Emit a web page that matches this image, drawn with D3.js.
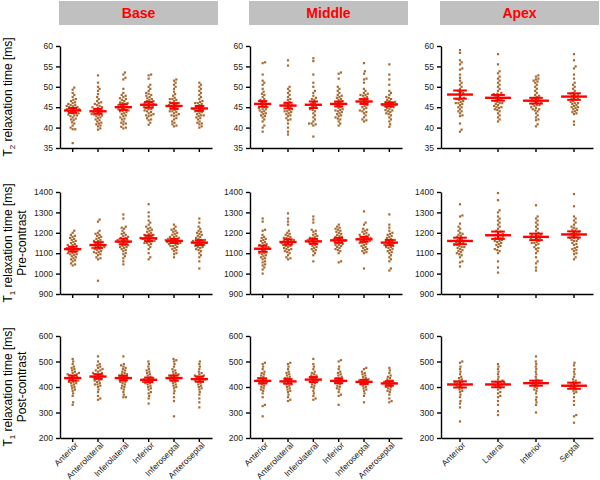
<!DOCTYPE html>
<html>
<head>
<meta charset="utf-8">
<script src="https://cdn.jsdelivr.net/npm/d3@7"></script>
<style>
  body { margin: 0; background: #fff; }
  svg { font-family: "Liberation Sans", Arial, sans-serif; }
  .tick text { font-size: 8.5px; fill: #222; }
  .domain, .tick line { stroke: #000; stroke-width: 1.4; }
</style>
</head>
<body>
<svg id="chart" width="600" height="480"></svg>
<script>
// categories
const sixCats = ["Anterior", "Anterolateral", "Inferolateral", "Inferior", "Inferoseptal", "Anteroseptal"];
const apexCats = ["Anterior", "Lateral", "Inferior", "Septal"];
const sections = ["Base", "Middle", "Apex"];

// y axis ranges per row
const t2Domain = [35, 60], t2Ticks = [35, 40, 45, 50, 55, 60];
const preDomain = [900, 1400], preTicks = [900, 1000, 1100, 1200, 1300, 1400];
const postDomain = [200, 600], postTicks = [200, 300, 400, 500, 600];

// ---- T2 (row 1) individual values ----
const t2Base = [
  [36.2,39.6,39.6,40.0,40.5,41.0,41.3,41.8,42.0,42.2,42.5,42.8,43.0,43.0,43.2,43.5,43.5,43.8,44.0,44.0,44.2,44.3,44.5,44.5,44.7,44.8,45.0,45.0,45.2,45.3,45.5,45.5,45.8,46.0,46.2,46.5,46.8,47.0,47.5,48.0,48.5,49.3,49.8],
  [39.5,39.8,40.3,40.8,41.2,41.5,41.8,42.0,42.3,42.5,42.8,43.0,43.0,43.3,43.5,43.5,43.8,44.0,44.0,44.2,44.5,44.5,44.8,45.0,45.0,45.3,45.5,45.8,46.0,46.2,46.5,47.0,47.5,48.2,49.0,49.5,50.0,51.0,52.8,40.5,41.0,43.2],
  [39.8,40.0,40.2,40.8,41.2,41.5,42.0,42.5,42.8,43.0,43.3,43.5,43.8,44.0,44.2,44.5,44.5,44.8,45.0,45.0,45.3,45.5,45.5,45.8,46.0,46.2,46.5,46.8,47.0,47.2,47.5,47.8,48.0,48.5,49.5,51.8,52.2,53.0,53.5,41.0,42.2,44.0,46.0],
  [40.7,41.2,41.8,42.3,42.8,43.0,43.3,43.5,43.8,44.0,44.2,44.5,44.8,45.0,45.0,45.3,45.5,45.8,46.0,46.0,46.2,46.5,46.8,47.0,47.2,47.5,47.8,48.0,48.3,48.5,49.0,49.5,50.0,50.5,52.0,52.8,53.0,42.0,43.0,44.5,45.5,46.5],
  [40.3,40.5,40.8,41.5,42.0,42.3,42.8,43.0,43.3,43.5,43.8,44.0,44.3,44.5,44.8,45.0,45.0,45.2,45.5,45.8,46.0,46.2,46.5,46.8,47.0,47.3,47.8,48.2,48.8,49.5,50.0,50.5,51.0,51.5,51.8,41.2,43.0,44.0,45.5,46.0,47.0],
  [40.0,40.3,40.8,41.2,41.5,42.0,42.3,42.5,42.8,43.0,43.3,43.5,43.8,44.0,44.0,44.3,44.5,44.8,45.0,45.0,45.3,45.5,45.8,46.0,46.3,46.5,47.0,47.5,48.0,48.5,49.0,49.5,50.0,50.5,51.0,41.0,43.0,44.5,46.0]
];
const t2Middle = [
  [39.0,40.0,40.5,41.5,42.0,42.5,43.0,43.3,43.5,43.8,44.0,44.2,44.5,44.8,45.0,45.0,45.3,45.5,45.8,46.0,46.3,46.5,47.0,47.5,48.0,48.3,48.8,49.5,50.5,51.0,51.5,53.0,55.8,56.0,42.8,44.5,46.8],
  [38.3,39.0,40.0,41.0,41.8,42.3,42.8,43.0,43.3,43.5,43.8,44.0,44.3,44.5,44.8,45.0,45.3,45.5,45.8,46.0,46.3,46.8,47.0,47.5,48.0,48.5,49.0,49.5,50.0,55.2,56.5,42.0,44.0,45.5],
  [37.8,40.5,40.8,41.0,41.0,41.5,42.5,43.0,43.5,44.0,44.3,44.5,44.8,45.0,45.3,45.5,46.0,46.3,46.8,47.0,47.3,47.8,48.5,49.0,50.0,51.0,53.0,56.3,57.0,42.0,45.8],
  [40.5,41.0,41.5,42.0,42.5,42.8,43.0,43.3,43.5,43.8,44.0,44.3,44.5,44.8,45.0,45.3,45.5,45.8,46.0,46.3,46.5,46.8,47.0,47.3,47.5,48.0,48.5,49.0,49.5,50.0,52.0,53.2,53.5,44.2,46.2,47.8,42.2],
  [41.5,41.8,42.0,42.5,43.0,43.5,43.8,44.0,44.5,44.8,45.0,45.3,45.5,45.8,46.0,46.3,46.5,46.8,47.0,47.3,47.5,47.8,48.0,48.3,48.5,49.0,49.5,51.0,51.8,52.0,53.2,53.8,55.8,44.2,46.2,47.0,48.0],
  [40.2,40.8,41.5,42.0,42.5,43.0,43.3,43.5,43.8,44.0,44.3,44.5,44.8,45.0,45.0,45.3,45.5,45.5,45.8,46.0,46.0,46.3,46.5,46.8,47.0,47.3,47.5,48.0,48.5,49.0,50.5,51.8,53.0,55.5,44.2,45.2,46.2]
];
const t2Apex = [
  [39.0,39.5,41.0,42.8,43.0,43.5,44.0,44.5,45.0,45.0,45.5,45.8,46.0,46.3,46.5,46.8,47.0,47.3,47.5,48.0,48.3,48.8,49.0,49.5,50.0,50.5,51.0,51.5,52.2,53.0,54.2,54.5,55.5,56.0,56.5,58.3,59.0,44.0,46.0,47.0,48.5],
  [41.5,42.0,42.5,43.0,43.5,44.0,44.3,44.5,45.0,45.0,45.3,45.5,45.8,46.0,46.3,46.5,46.8,47.0,47.3,47.5,47.8,48.0,48.3,48.5,49.0,49.5,50.0,50.5,51.0,51.5,52.0,52.5,53.3,53.8,55.5,58.0,44.8,46.0,47.0,48.2],
  [40.3,40.8,41.8,42.5,43.0,43.5,44.0,44.2,44.5,44.8,45.0,45.3,45.5,45.8,46.0,46.3,46.5,46.8,47.0,47.0,47.3,47.5,47.8,48.0,48.5,49.0,49.5,50.0,50.5,51.0,51.3,51.5,51.8,52.0,52.5,52.8,44.5,45.5,46.0,42.0],
  [40.7,41.5,43.3,43.5,43.8,44.0,44.3,44.5,44.8,45.0,45.3,45.5,45.8,46.0,46.3,46.5,46.8,47.0,47.3,47.5,47.8,48.0,48.3,48.5,49.0,49.5,50.0,50.5,51.0,52.0,53.0,54.5,55.0,56.5,58.0,45.0,46.0,47.0,48.0]
];

// ---- T1 pre-contrast (row 2) ----
const preBase = [
  [1040,1045,1050,1060,1065,1070,1075,1080,1085,1090,1095,1100,1100,1105,1110,1110,1115,1120,1120,1125,1130,1130,1135,1140,1145,1150,1155,1160,1165,1170,1175,1180,1185,1190,1200,1210,1095,1115,1125,1140],
  [965,1070,1075,1080,1090,1095,1100,1105,1110,1115,1120,1120,1125,1130,1135,1140,1140,1145,1150,1155,1160,1165,1170,1175,1180,1185,1190,1195,1200,1210,1255,1265,1105,1125,1135,1150,1160,1130],
  [1045,1060,1075,1085,1095,1100,1110,1115,1120,1125,1130,1135,1140,1145,1150,1150,1155,1160,1160,1165,1170,1175,1180,1185,1190,1195,1200,1210,1220,1225,1230,1270,1290,1140,1155,1165,1130,1175],
  [1070,1080,1100,1120,1130,1140,1145,1150,1155,1160,1165,1165,1170,1170,1175,1175,1180,1185,1190,1195,1200,1205,1210,1215,1220,1225,1230,1240,1250,1260,1280,1300,1340,1160,1170,1180,1150,1190],
  [1080,1095,1100,1110,1115,1120,1125,1130,1135,1140,1145,1150,1150,1155,1155,1160,1160,1165,1165,1170,1170,1175,1180,1185,1190,1195,1200,1205,1210,1215,1220,1230,1240,1160,1150,1170,1145,1135,1180],
  [1025,1060,1080,1090,1100,1110,1115,1120,1125,1130,1135,1140,1145,1150,1150,1155,1160,1160,1165,1170,1175,1180,1185,1190,1195,1200,1205,1210,1220,1230,1250,1270,1140,1155,1165,1130,1145]
];
const preMiddle = [
  [1000,1020,1030,1040,1045,1055,1060,1070,1075,1080,1090,1095,1100,1100,1105,1110,1115,1120,1125,1130,1130,1135,1140,1145,1150,1155,1160,1165,1170,1175,1180,1190,1210,1215,1255,1270,1085,1120,1140],
  [1070,1075,1080,1090,1100,1105,1110,1115,1120,1125,1130,1135,1140,1145,1150,1150,1155,1160,1165,1170,1175,1180,1185,1190,1195,1200,1210,1240,1255,1270,1295,1135,1160,1175,1120,1145,1165],
  [1060,1090,1100,1110,1115,1120,1125,1130,1135,1140,1145,1150,1155,1160,1160,1165,1170,1175,1180,1185,1190,1195,1205,1210,1215,1250,1265,1280,1145,1165,1175,1155],
  [1055,1060,1100,1110,1115,1120,1125,1130,1135,1140,1145,1150,1155,1160,1160,1165,1170,1175,1180,1185,1190,1195,1200,1205,1210,1215,1220,1225,1230,1240,1150,1170,1180,1160,1140],
  [1025,1100,1105,1110,1115,1120,1125,1130,1135,1140,1145,1150,1155,1160,1165,1165,1170,1170,1175,1180,1185,1190,1195,1200,1205,1210,1215,1220,1240,1250,1305,1160,1175,1180,1150,1190],
  [1015,1025,1060,1070,1080,1090,1100,1105,1110,1115,1120,1125,1130,1135,1140,1145,1150,1155,1160,1160,1165,1170,1175,1180,1185,1190,1195,1200,1210,1225,1240,1290,1140,1150,1165,1130]
];
const preApex = [
  [1035,1055,1060,1080,1090,1095,1100,1105,1110,1115,1120,1125,1130,1135,1140,1145,1150,1155,1160,1160,1165,1170,1175,1180,1185,1190,1195,1200,1210,1220,1230,1245,1280,1285,1340,1140,1150,1130],
  [1005,1030,1060,1100,1110,1115,1120,1130,1135,1140,1150,1155,1160,1165,1170,1175,1180,1185,1190,1195,1200,1210,1220,1230,1240,1250,1260,1270,1280,1300,1310,1360,1395,1160,1175,1190,1205,1145],
  [1015,1030,1050,1060,1080,1100,1110,1120,1125,1130,1140,1145,1150,1155,1160,1165,1170,1175,1180,1185,1190,1195,1200,1210,1220,1230,1240,1250,1260,1270,1280,1335,1165,1180,1190,1150,1175],
  [1070,1080,1095,1100,1110,1115,1120,1125,1130,1140,1145,1150,1160,1165,1170,1175,1180,1185,1190,1195,1200,1205,1210,1220,1225,1230,1240,1250,1260,1270,1280,1330,1390,1175,1190,1200,1160,1215]
];

// ---- T1 post-contrast (row 3) ----
const postBase = [
  [330,340,365,375,385,390,395,400,405,410,415,420,420,425,430,430,435,440,440,445,450,450,455,460,465,470,475,480,490,500,510,425,435,445,455,415],
  [350,355,365,380,390,400,405,410,415,420,425,430,435,440,440,445,450,450,455,460,465,470,475,480,485,490,500,520,435,445,455,425,465,410],
  [360,360,370,380,390,395,400,405,410,415,420,425,430,435,440,445,450,455,460,465,470,475,480,485,490,520,430,440,450,420,445,435],
  [335,355,365,375,380,390,395,400,405,410,415,420,420,425,430,435,440,445,450,455,460,465,470,480,490,500,425,415,435,430],
  [285,345,360,375,385,395,400,405,410,415,420,425,430,435,440,440,445,450,455,460,465,470,480,490,500,505,510,430,445,425,450],
  [320,340,355,370,380,390,395,400,405,410,415,420,425,430,435,440,445,450,455,460,470,480,490,500,430,440,420,445,425]
];
const postMiddle = [
  [285,325,330,360,375,385,390,395,400,405,410,415,420,420,425,430,435,440,445,450,455,460,470,480,490,495,425,415,435,430],
  [345,350,360,370,380,385,390,395,400,405,410,415,420,425,430,435,440,445,450,455,460,470,480,490,495,425,415,435,410],
  [350,355,365,375,385,395,400,405,410,415,420,425,430,435,440,445,450,455,460,470,480,490,510,425,435,445,420],
  [330,365,370,380,390,395,400,405,410,415,420,425,430,435,440,445,450,455,460,470,480,500,505,425,415,435],
  [340,365,375,385,390,395,400,405,410,415,420,425,430,435,440,445,450,455,460,470,475,420,430,410,425],
  [340,345,355,370,380,385,390,395,400,405,410,415,420,420,425,430,435,440,445,455,465,475,410,415,425,400]
];
const postApex = [
  [265,320,335,345,360,370,380,385,390,395,400,405,410,415,420,425,430,435,440,450,460,470,480,495,500,410,405,415,420],
  [290,305,330,345,360,365,375,380,390,395,400,405,410,415,420,425,430,440,450,460,470,480,490,410,415,420,405],
  [300,330,340,350,360,375,385,390,395,400,405,410,415,420,425,430,440,450,460,470,480,490,500,520,415,420,410],
  [260,285,290,330,345,360,375,380,385,390,395,400,405,410,415,420,425,430,440,450,460,470,485,495,410,405,400]
];

// mean and error (SEM)
const t2Means = [[44.2,44.0,45.0,45.6,45.3,44.7],[45.8,45.4,45.6,45.8,46.4,45.7],[48.1,47.3,46.6,47.6]];
const t2Errs  = [[0.6,0.6,0.7,0.7,0.7,0.6],[0.7,0.7,0.8,0.6,0.6,0.5],[1.0,0.7,0.7,0.8]];
const preMeans = [[1120,1140,1157,1173,1160,1152],[1122,1155,1158,1163,1168,1152],[1160,1188,1180,1192]];
const preErrs  = [[12,14,14,14,10,12],[15,13,12,12,12,13],[16,18,16,15]];
const postMeans = [[435,441,435,428,435,431],[424,422,429,424,420,414],[410,410,415,405]];
const postErrs  = [[10,9,9,9,10,10],[10,9,10,9,8,9],[12,11,10,12]];

const svg = d3.select("#chart");

const panelLeft = [60, 250, 441];
const panelWidth = 152;
const rowTop = [46, 192, 336];
const rowHeight = 102;

const rows = [
  {domain: t2Domain, ticks: t2Ticks, data: [t2Base, t2Middle, t2Apex], means: t2Means, errs: t2Errs},
  {domain: preDomain, ticks: preTicks, data: [preBase, preMiddle, preApex], means: preMeans, errs: preErrs},
  {domain: postDomain, ticks: postTicks, data: [postBase, postMiddle, postApex], means: postMeans, errs: postErrs}
];

// header boxes
sections.forEach((s, c) => {
  svg.append("rect")
    .attr("x", panelLeft[c] - 1).attr("y", 1)
    .attr("width", 159).attr("height", 24)
    .attr("fill", "#c0c0c0");
  svg.append("text")
    .attr("x", panelLeft[c] - 1 + 79.5).attr("y", 18)
    .attr("text-anchor", "middle")
    .attr("font-size", 14).attr("font-weight", "bold")
    .attr("fill", "#ff0000")
    .text(s);
});

// simple beeswarm: place sorted values as close to center as possible
function swarm(values, y, d) {
  const pts = values.slice().sort((a, b) => a - b).map(v => ({v, y: y(v), x: 0}));
  const placed = [];
  pts.forEach(p => {
    const near = placed.filter(q => Math.abs(q.y - p.y) < d);
    const cands = [0];
    near.forEach(q => {
      const dx = Math.sqrt(d * d - (q.y - p.y) * (q.y - p.y));
      cands.push(q.x + dx, q.x - dx);
    });
    cands.sort((a, b) => Math.abs(a) - Math.abs(b));
    for (const cx of cands) {
      if (near.every(q => (q.x - cx) ** 2 + (q.y - p.y) ** 2 >= d * d - 0.01)) { p.x = cx; break; }
    }
    placed.push(p);
  });
  return pts;
}

rows.forEach((row, r) => {
  const y = d3.scaleLinear().domain(row.domain).range([rowTop[r] + rowHeight, rowTop[r]]);
  [0, 1, 2].forEach(c => {
    const cats = c === 2 ? apexCats : sixCats;
    const x = d3.scaleBand().domain(cats).range([panelLeft[c], panelLeft[c] + panelWidth]);
    const g = svg.append("g");

    // y axis
    g.append("g")
      .attr("transform", `translate(${panelLeft[c]},0)`)
      .call(d3.axisLeft(y).tickValues(row.ticks).tickFormat(d3.format("d")).tickSize(4).tickPadding(3).tickSizeOuter(0));

    // x axis
    const xa = g.append("g")
      .attr("transform", `translate(0,${rowTop[r] + rowHeight})`)
      .call(d3.axisBottom(x).tickSize(4).tickSizeOuter(0));
    if (r === 2) {
      xa.selectAll(".tick text")
        .attr("font-size", 7.2)
        .attr("text-anchor", "end")
        .attr("x", 0).attr("y", 0)
        .attr("dy", "0.35em")
        .attr("transform", "translate(4,5.5) rotate(-45)");
    } else {
      xa.selectAll(".tick text").remove();
    }

    // dots
    row.data[c].forEach((vals, i) => {
      const cx = x(cats[i]) + x.bandwidth() / 2;
      g.append("g").selectAll("rect")
        .data(swarm(vals, y, 2.6))
        .join("rect")
          .attr("x", d => cx + d.x - 1.1)
          .attr("y", d => d.y - 1.1)
          .attr("width", 2.2).attr("height", 2.2)
          .attr("fill", "#a86a30");
    });

    // mean and error bars
    const bw = x.bandwidth();
    cats.forEach((cat, i) => {
      const cx = x(cat) + bw / 2;
      const m = row.means[c][i], e = row.errs[c][i];
      const half = bw * 0.34, cap = bw * 0.18;
      const eg = g.append("g").attr("stroke", "#ff0000").attr("stroke-width", 2);
      eg.append("line").attr("x1", cx - half).attr("x2", cx + half).attr("y1", y(m)).attr("y2", y(m)).attr("stroke-width", 2.4);
      eg.append("line").attr("x1", cx).attr("x2", cx).attr("y1", y(m - e)).attr("y2", y(m + e));
      eg.append("line").attr("x1", cx - cap).attr("x2", cx + cap).attr("y1", y(m + e)).attr("y2", y(m + e));
      eg.append("line").attr("x1", cx - cap).attr("x2", cx + cap).attr("y1", y(m - e)).attr("y2", y(m - e));
    });
  });
});

// y axis titles
function yTitle(r, sub, second) {
  const cy = rowTop[r] + rowHeight / 2;
  const t = svg.append("text")
    .attr("transform", `translate(12,${cy}) rotate(-90)`)
    .attr("text-anchor", "middle")
    .attr("font-size", 12).attr("fill", "#000");
  t.append("tspan").text("T");
  t.append("tspan").attr("font-size", 8).attr("dy", 3).text(sub);
  t.append("tspan").attr("dy", -3).text(" relaxation time [ms]");
  if (second) {
    svg.append("text")
      .attr("transform", `translate(26,${cy}) rotate(-90)`)
      .attr("text-anchor", "middle")
      .attr("font-size", 12).attr("fill", "#000")
      .text(second);
  }
}
yTitle(0, "2", null);
yTitle(1, "1", "Pre-contrast");
yTitle(2, "1", "Post-contrast");
</script>
</body>
</html>
